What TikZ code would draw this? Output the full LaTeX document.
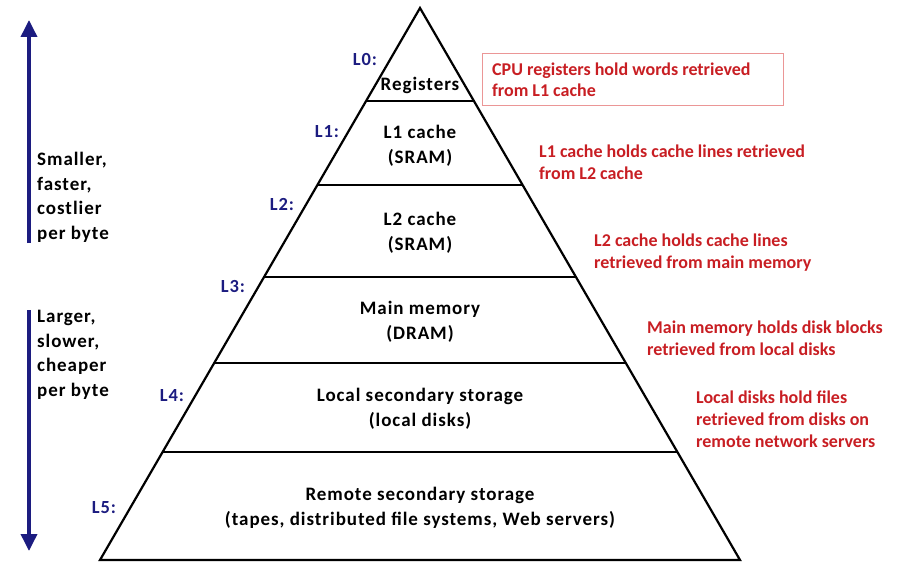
\documentclass[tikz,border=0pt]{standalone}
\usepackage{fontspec}
\setmainfont{Carlito}
\newfontfamily\widefont[LetterSpace=5]{Carlito}
\usetikzlibrary{arrows.meta}
\definecolor{navy}{RGB}{28,28,128}
\definecolor{annred}{RGB}{200,30,35}
\definecolor{boxred}{RGB}{235,150,150}
\begin{document}
\begin{tikzpicture}[x=1pt,y=-1pt,
  lvl/.style={font=\widefont\bfseries\fontsize{19}{25.5}\selectfont, align=center, inner sep=0pt},
  lab/.style={font=\widefont\bfseries\fontsize{18.5}{20}\selectfont, text=navy, inner sep=0pt},
  note/.style={font=\bfseries\fontsize{18}{21.6}\selectfont, text=annred, align=left, anchor=base west, inner sep=0pt},
  side/.style={font=\widefont\bfseries\fontsize{19}{24.5}\selectfont, align=left, anchor=base west, inner sep=0pt},
  pyr/.style={line width=2.2pt, line join=miter},
  sarrow/.style={draw=navy, line width=3.6pt, -{Triangle[length=17pt,width=16pt]}}]
\useasboundingbox (0,0) rectangle (901,564);
% pyramid
\draw[pyr] (420,8) -- (740,560) -- (100,560) -- cycle;
\draw[pyr] (366.1,101) -- (473.9,101);
\draw[pyr] (317.4,185) -- (522.6,185);
\draw[pyr] (264.1,277) -- (575.9,277);
\draw[pyr] (214.2,363) -- (625.8,363);
\draw[pyr] (162.6,452) -- (677.4,452);
% level texts
\node[lvl] (reg) at (420,85.5) {Registers};
\node[lvl] (l1) at (420,146) {L1 cache\\(SRAM)};
\node[lvl] (l2) at (420,233) {L2 cache\\(SRAM)};
\node[lvl] (mm) at (420,322) {Main memory\\(DRAM)};
\node[lvl] (ls) at (420,409) {Local secondary storage\\(local disks)};
\node[lvl] (rs) at (420,508) {Remote secondary storage\\(tapes, distributed file systems, Web servers)};
% level labels
\node[lab] (lab0) at (365,59) {L0:};
\node[lab] (lab1) at (327,132) {L1:};
\node[lab] (lab2) at (282,204) {L2:};
\node[lab] (lab3) at (233,286) {L3:};
\node[lab] (lab4) at (172,396) {L4:};
\node[lab] (lab5) at (104,508) {L5:};
% annotations
\draw[boxred, line width=0.8pt] (482,53) rectangle (783,105);
\node[note] (n0) at (492,97) {CPU registers hold words retrieved\\from L1 cache};
\node[note] (n1) at (539,179) {L1 cache holds cache lines retrieved\\from L2 cache};
\node[note] (n2) at (594,268) {L2 cache holds cache lines\\retrieved from main memory};
\node[note] (n3) at (647,355) {Main memory holds disk blocks\\retrieved from local disks};
\node[note] (n4) at (696,447) {Local disks hold files\\retrieved from disks on\\remote network servers};
% side arrows
\coordinate (upS) at (29,243);
\coordinate (upE) at (29,20);
\coordinate (dnS) at (29,310);
\coordinate (dnE) at (29,551);
\draw[sarrow] (upS) -- (upE);
\draw[sarrow] (dnS) -- (dnE);
\node[side] (t1) at (37,239) {Smaller,\\faster,\\costlier\\per byte};
\node[side] (t2) at (37,396) {Larger,\\slower,\\cheaper\\per byte};
\end{tikzpicture}
\end{document}
